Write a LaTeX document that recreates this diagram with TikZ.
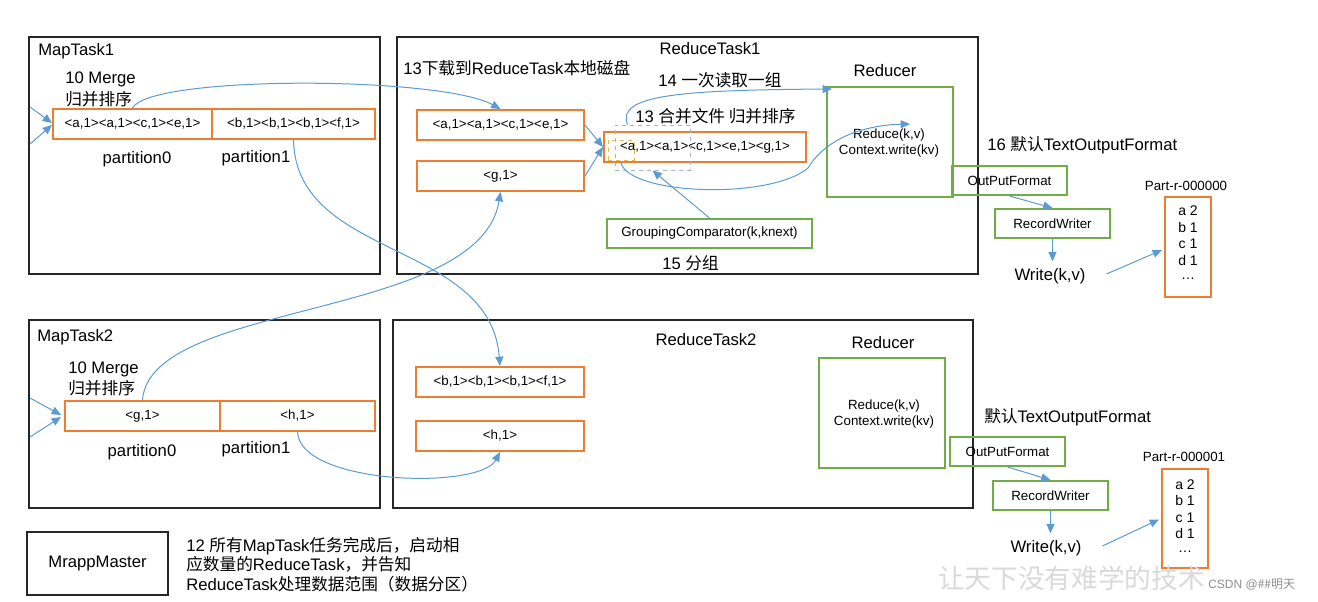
\documentclass[tikz,border=0pt]{standalone}
\usepackage{fontspec}
\setmainfont{Liberation Sans}
\newfontfamily\cjk{Noto Sans CJK SC}
\usetikzlibrary{arrows.meta,fit,calc}
\definecolor{borange}{HTML}{ED7D31}
\definecolor{bgreen}{HTML}{70AD47}
\definecolor{bblue}{HTML}{5B9BD5}
\definecolor{dgray}{HTML}{A5B4C8}
\definecolor{dyellow}{HTML}{E8B84A}
\newcommand{\zh}[1]{{\cjk #1}}
\begin{document}
\begin{tikzpicture}[x=0.75pt,y=-0.75pt,
  taskbox/.style={draw=black!85,line width=1.5pt,inner sep=0pt},
  obox/.style={draw=borange,line width=1.5pt,inner sep=0pt},
  gbox/.style={draw=bgreen,line width=1.5pt,inner sep=0pt},
  btext/.style={inner sep=0pt,align=center,font=\fontsize{10}{12}\selectfont},
  lbl/.style={inner sep=0pt,font=\fontsize{12.5}{14}\selectfont},
  small/.style={inner sep=0pt,font=\fontsize{10}{12}\selectfont},
  conn/.style={draw=bblue,line width=0.75pt,-{Triangle[length=7pt,width=6pt]}},
  partbox/.style={draw=borange,line width=1.5pt,inner sep=0pt},
  parttext/.style={inner sep=0pt,align=center,font=\fontsize{10.5}{12.4}\selectfont},
]
\useasboundingbox (0,0) rectangle (1318,601);

% ---------- MapTask1 ----------
\node[taskbox,fit={(29,37)(380,274)}] (mt1) {};
\node[lbl,anchor=west] (mt1l) at (38,51) {MapTask1};
\node[lbl,anchor=west] (mg1a) at (65,79) {10 Merge};
\node[lbl,anchor=west] (mg1b) at (65,99) {\zh{归并排序}};
\node[obox,fit={(53,109)(212,139)}] (p10) {};
\node[btext] (p10t) at (p10.center) {<a,1><a,1><c,1><e,1>};
\node[obox,fit={(212,109)(375,139)}] (p11) {};
\node[btext] (p11t) at (p11.center) {<b,1><b,1><b,1><f,1>};
\node[lbl] (p10l) at (137,159) {partition0};
\node[lbl] (p11l) at (256,158) {partition1};
\coordinate (in1a) at (30,107);
\coordinate (in1b) at (30,144);
\draw[conn] (in1a) -- ($(p10.west)+(0,-1)$);
\draw[conn] (in1b) -- ($(p10.west)+(0,1)$);

% ---------- MapTask2 ----------
\node[taskbox,fit={(29,320)(380,508)}] (mt2) {};
\node[lbl,anchor=west] (mt2l) at (37,337) {MapTask2};
\node[lbl,anchor=west] (mg2a) at (68,369) {10 Merge};
\node[lbl,anchor=west] (mg2b) at (68,388) {\zh{归并排序}};
\node[obox,fit={(65,401)(220,431)}] (p20) {};
\node[btext] (p20t) at (p20.center) {<g,1>};
\node[obox,fit={(220,401)(375,431)}] (p21) {};
\node[btext] (p21t) at (p21.center) {<h,1>};
\node[lbl] (p20l) at (142,452) {partition0};
\node[lbl] (p21l) at (256,449) {partition1};
\coordinate (in2a) at (30,398);
\coordinate (in2b) at (30,437);
\draw[conn] (in2a) -- ($(p20.west)+(-3,-1)$);
\draw[conn] (in2b) -- ($(p20.west)+(-3,1)$);

% ---------- ReduceTask1 ----------
\node[taskbox,fit={(397,37)(978,274)}] (rt1) {};
\node[lbl] (rt1l) at (710,49) {ReduceTask1};
\node[lbl,anchor=west] (dl1) at (403,68) {13\zh{下载到}ReduceTask\zh{本地磁盘}};
\node[obox,fit={(417,110)(584,140)}] (ra) {};
\node[btext] (rat) at (ra.center) {<a,1><a,1><c,1><e,1>};
\node[obox,fit={(417,161)(584,191)}] (rg) {};
\node[btext] (rgt) at (rg.center) {<g,1>};
\node[obox,fit={(604,132)(806,162)}] (mg) {};
\node[btext] (mgt) at (mg.center) {<a,1><a,1><c,1><e,1><g,1>};
\node[draw=dgray,dashed,line width=0.75pt,inner sep=0pt,fit={(615,125)(690,170)}] (grp) {};
\node[draw=dyellow,dashed,line width=0.75pt,inner sep=0pt,fit={(608,140)(634,160)}] (grp1) {};
\node[lbl,anchor=west] (mgl) at (635,116) {13 \zh{合并文件 归并排序}};
\node[lbl,anchor=west] (rd1l) at (658,80) {14 \zh{一次读取一组}};
\node[gbox,fit={(607,219)(812,248)}] (gc) {};
\node[btext] (gct) at (gc.center) {GroupingComparator(k,knext)};
\node[lbl,anchor=west] (gcl) at (662,263) {15 \zh{分组}};
\node[lbl] (red1l) at (885,71) {Reducer};
\node[gbox,fit={(827,87)(953,197)}] (red1) {};
\node[btext] (red1t) at (889,143) {Reduce(k,v)\\Context.write(kv)};
\node[gbox,fit={(952,166)(1067,195)}] (of1) {};
\node[btext] (of1t) at (of1.center) {OutPutFormat};
\node[lbl,anchor=west] (tof1) at (987,145) {16 \zh{默认}TextOutputFormat};
\node[gbox,fit={(995,209)(1110,238)}] (rw1) {};
\node[btext] (rw1t) at (rw1.center) {RecordWriter};
\node[lbl,inner sep=5pt] (wr1) at (1050,276) {Write(k,v)};
\node[small] (pt1l) at (1186,186) {Part-r-000000};
\node[partbox,fit={(1165,197)(1211,297)}] (pt1) {};
\node[parttext] (pt1t) at ($(pt1.center)+(0,-3)$) {a 2\\b 1\\c 1\\d 1\\\raisebox{2pt}{\ldots}};

\draw[conn] (ra.east) -- (mg.west);
\draw[conn] (rg.east) -- (mg.west);
\draw[conn] (gc.north) -- (grp.south);
\draw[conn] ($(grp.north west)+(13,0)$) .. controls (616,95) and (680,90) .. ($(red1.north west)+(6,3)$);
\coordinate (red1in) at (910,124);
\draw[conn] ($(mg.south west)+(18,0)$) .. controls (630,195) and (770,200) .. (808,168) .. controls (828,135) and (870,125) .. (red1in);
\draw[conn] (of1.south) -- (rw1.north);
\draw[conn] (rw1.south) -- (rw1.south |- wr1.north);
\draw[conn] ($(wr1.east)+(14,-2)$) -- ($(pt1.west)+(-2,3)$);

% ---------- ReduceTask2 ----------
\node[taskbox,fit={(393,320)(973,508)}] (rt2) {};
\node[lbl] (rt2l) at (706,340) {ReduceTask2};
\node[obox,fit={(416,367)(584,397)}] (rb) {};
\node[btext] (rbt) at (rb.center) {<b,1><b,1><b,1><f,1>};
\node[obox,fit={(416,421)(584,451)}] (rh) {};
\node[btext] (rht) at (rh.center) {<h,1>};
\node[lbl] (red2l) at (883,343) {Reducer};
\node[gbox,fit={(819,358)(945,468)}] (red2) {};
\node[btext] (red2t) at (884,414) {Reduce(k,v)\\Context.write(kv)};
\node[gbox,fit={(950,437)(1065,466)}] (of2) {};
\node[btext] (of2t) at (of2.center) {OutPutFormat};
\node[lbl,anchor=west] (tof2) at (984,417) {\zh{默认}TextOutputFormat};
\node[gbox,fit={(993,481)(1108,510)}] (rw2) {};
\node[btext] (rw2t) at (rw2.center) {RecordWriter};
\node[lbl,inner sep=5pt] (wr2) at (1046,548) {Write(k,v)};
\node[small] (pt2l) at (1184,457) {Part-r-000001};
\node[partbox,fit={(1162,469)(1208,568)}] (pt2) {};
\node[parttext] (pt2t) at ($(pt2.center)+(0,-1)$) {a 2\\b 1\\c 1\\d 1\\\raisebox{2pt}{\ldots}};

\draw[conn] (of2.south) -- (rw2.north);
\draw[conn] (rw2.south) -- (rw2.south |- wr2.north);
\draw[conn] ($(wr2.east)+(14,-2)$) -- ($(pt2.west)+(-2,1)$);

% ---------- cross connectors ----------
\draw[conn] (p10.north) .. controls (150,75) and (440,76) .. (ra.north);
\draw[conn] (p11.south) .. controls (296,260) and (490,240) .. (rb.north);
\draw[conn] (p20.north) .. controls (150,300) and (480,320) .. (rg.south);
\draw[conn] (p21.south) .. controls (300,485) and (480,490) .. (rh.south);

% ---------- MrappMaster ----------
\node[taskbox,fit={(27,532)(168,595)}] (mm) {};
\node[lbl] (mmt) at (mm.center) {MrappMaster};
\node[lbl,anchor=west] (mmt1) at (186,546) {12 \zh{所有}MapTask\zh{任务完成后，启动相}};
\node[lbl,anchor=west] (mmt2) at (186,564) {\zh{应数量的}ReduceTask\zh{，并告知}};
\node[lbl,anchor=west] (mmt3) at (186,584) {ReduceTask\zh{处理数据范围（数据分区）}};

% ---------- watermark ----------
\node[inner sep=0pt,anchor=west,text=black!15,font=\cjk\fontsize{20}{21}\selectfont] (wm) at (938,578) {让天下没有难学的技术};
\node[inner sep=0pt,anchor=west,text=black!45,font=\fontsize{9}{10}\selectfont] (wm2) at (1208,585) {CSDN @\zh{\#\#明天}};
\end{tikzpicture}
\end{document}
